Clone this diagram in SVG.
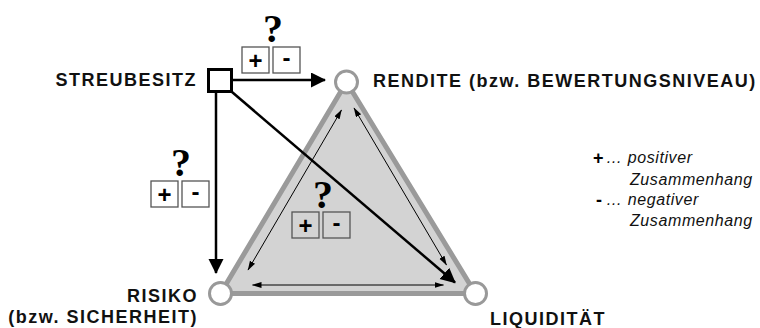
<svg xmlns="http://www.w3.org/2000/svg" width="760" height="328" viewBox="0 0 760 328">
<style>
.lbl{font-family:"Liberation Sans",Arial,sans-serif;font-weight:bold;font-size:18px;letter-spacing:1.5px;fill:#111}
.q{font-family:"Liberation Serif","Times New Roman",serif;font-weight:bold;font-size:40px;fill:#000;text-anchor:middle}
.pm{font-family:"Liberation Sans",Arial,sans-serif;font-weight:bold;font-size:24px;fill:#000;text-anchor:middle}
.box{fill:#fff;stroke:#555;stroke-width:1.3}
.boxg{fill:none;stroke:#555;stroke-width:1.3}
.leg{font-family:"Liberation Sans",Arial,sans-serif;font-style:italic;font-size:16px;letter-spacing:0.6px;fill:#111}
.legb{font-family:"Liberation Sans",Arial,sans-serif;font-weight:bold;font-size:18px;fill:#000}
.thick{stroke:#000;stroke-width:2.5;fill:none}
.thin{stroke:#000;stroke-width:1;fill:none}
.vtx{fill:#fff;stroke:#999;stroke-width:3}
</style>
<defs>
<marker id="big" markerUnits="userSpaceOnUse" markerWidth="16" markerHeight="16" refX="14" refY="7.5" orient="auto">
<path d="M0,0 L15,7.5 L0,15 z" fill="#000"/>
</marker>
<marker id="small" markerUnits="userSpaceOnUse" markerWidth="10" markerHeight="8" refX="9" refY="3" orient="auto-start-reverse">
<path d="M0,0 L9.5,3 L0,6 z" fill="#000"/>
</marker>
</defs>
<g id="triangle">
<polygon points="346.5,82 220.5,293.5 475.5,293.5" fill="#d3d3d3" stroke="#9a9a9a" stroke-width="5" stroke-linejoin="round"/>
</g>
<g id="connectors">
<line class="thin" x1="341.5" y1="110" x2="248" y2="270" marker-start="url(#small)" marker-end="url(#small)"/>
<line class="thin" x1="354" y1="108" x2="446.5" y2="265" marker-start="url(#small)" marker-end="url(#small)"/>
<line class="thin" x1="252.5" y1="285" x2="443.5" y2="285" marker-start="url(#small)" marker-end="url(#small)"/>
<line class="thick" x1="233" y1="80" x2="325" y2="80" marker-end="url(#big)"/>
<line class="thick" x1="216" y1="93" x2="216" y2="273" marker-end="url(#big)"/>
<line class="thick" x1="232" y1="92" x2="455" y2="282.5" marker-end="url(#big)"/>
</g>
<g id="node-rendite">
<circle class="vtx" cx="346.5" cy="82" r="11"/>
<text class="lbl" x="373" y="87">RENDITE (bzw. BEWERTUNGSNIVEAU)</text>
</g>
<g id="node-risiko">
<circle class="vtx" cx="220.5" cy="293.5" r="11"/>
<text class="lbl" x="198" y="302" text-anchor="end">RISIKO</text>
<text class="lbl" x="198" y="323" text-anchor="end">(bzw. SICHERHEIT)</text>
</g>
<g id="node-liquiditaet">
<circle class="vtx" cx="475.5" cy="293.5" r="11"/>
<text class="lbl" x="490" y="325">LIQUIDITÄT</text>
</g>
<g id="node-streubesitz">
<rect x="208.5" y="69.5" width="23" height="22" fill="#fff" stroke="#000" stroke-width="3"/>
<text class="lbl" x="197" y="86" text-anchor="end">STREUBESITZ</text>
</g>
<g id="sign-top">
<text class="q" x="273" y="42">?</text>
<rect class="box" x="242" y="47" width="27" height="26"/>
<rect class="box" x="273" y="47" width="27" height="26"/>
<text class="pm" x="255.5" y="68.5">+</text>
<text class="pm" x="286.5" y="66">-</text>
</g>
<g id="sign-left">
<text class="q" x="181" y="176">?</text>
<rect class="box" x="151" y="181" width="27" height="26"/>
<rect class="box" x="182" y="181" width="27" height="26"/>
<text class="pm" x="164.5" y="202.5">+</text>
<text class="pm" x="195.5" y="200">-</text>
</g>
<g id="sign-center">
<text class="q" x="323" y="208">?</text>
<rect class="boxg" x="292" y="212" width="27" height="26"/>
<rect class="boxg" x="323" y="212" width="27" height="26"/>
<text class="pm" x="305.5" y="233.5">+</text>
<text class="pm" x="336.5" y="231">-</text>
</g>
<g id="legend">
<text class="legb" x="593" y="164">+</text>
<text class="leg" x="606" y="163">… positiver</text>
<text class="leg" x="630" y="185">Zusammenhang</text>
<text class="legb" x="596" y="206">-</text>
<text class="leg" x="606" y="205">… negativer</text>
<text class="leg" x="630" y="226">Zusammenhang</text>
</g>
</svg>
